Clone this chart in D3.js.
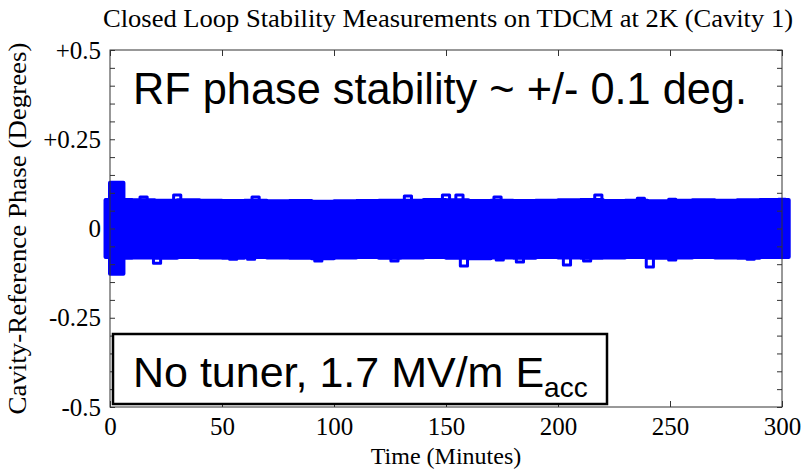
<!DOCTYPE html>
<html>
<head>
<meta charset="utf-8">
<script src="https://d3js.org/d3.v7.min.js"></script>
<style>
  body { margin: 0; background: #fff; }
  .axis path, .axis line { stroke: #333; }
  .axis text { font-family: "Liberation Serif", "Times New Roman", serif; font-size: 25px; fill: #000; }
</style>
</head>
<body>
<div id="chart"></div>
<script>
// Data
const title = "Closed Loop Stability Measurements on TDCM at 2K (Cavity 1)";
const xTicks = [0, 50, 100, 150, 200, 250, 300];
const yTicks = [-0.5, -0.45, -0.4, -0.35, -0.3, -0.25, -0.2, -0.15, -0.1, -0.05, 0,
                0.05, 0.1, 0.15, 0.2, 0.25, 0.3, 0.35, 0.4, 0.45, 0.5];
const yLabels = { "-0.5": "-0.5", "-0.25": "-0.25", "0": "0", "0.25": "+0.25", "0.5": "+0.5" };

// envelope of the phase signal (minutes, degrees)
const envTime  = [-2, 0, 6, 10, 20, 30, 40, 50, 60, 70, 80, 90, 100, 110, 120, 130, 140, 150,
                  160, 170, 180, 190, 200, 210, 220, 230, 240, 250, 260, 270, 280, 290, 300, 303];
const envUpper = [0.080, 0.128, 0.080, 0.079, 0.078, 0.079, 0.078, 0.077, 0.078, 0.076, 0.077, 0.075,
                  0.076, 0.077, 0.078, 0.078, 0.080, 0.079, 0.077, 0.078, 0.077, 0.078, 0.079, 0.080,
                  0.077, 0.078, 0.076, 0.078, 0.079, 0.078, 0.079, 0.080, 0.080, 0.080];
const envLower = [-0.080, -0.127, -0.082, -0.081, -0.082, -0.080, -0.081, -0.082, -0.080, -0.081,
                  -0.082, -0.083, -0.081, -0.080, -0.082, -0.081, -0.080, -0.082, -0.083, -0.081,
                  -0.082, -0.080, -0.081, -0.082, -0.081, -0.080, -0.082, -0.081, -0.080, -0.081,
                  -0.082, -0.080, -0.080, -0.080];

// isolated excursions poking out of the band
const bumpTime  = [15, 30, 65, 133, 150, 156, 173, 218, 237, 251, 300,
                   21, 55, 63, 93, 127, 158, 174, 183, 204, 213, 241, 251, 286];
const bumpValue = [0.088, 0.094, 0.088, 0.091, 0.094, 0.094, 0.088, 0.094, 0.085, 0.082, 0.082,
                   -0.097, -0.086, -0.086, -0.091, -0.091, -0.105, -0.088, -0.094, -0.102, -0.091,
                   -0.108, -0.088, -0.086];

const width = 802, height = 469;
const margin = { top: 50, right: 20, bottom: 62, left: 110 };

const svg = d3.select("#chart").append("svg")
  .attr("width", width).attr("height", height);

const x = d3.scaleLinear().domain([0, 300]).range([margin.left, width - margin.right]);
const y = d3.scaleLinear().domain([-0.5, 0.5]).range([height - margin.bottom, margin.top]);

// Title
svg.append("text")
  .attr("x", (margin.left + width - margin.right) / 2 + 2)
  .attr("y", 27)
  .attr("text-anchor", "middle")
  .attr("font-family", "Liberation Serif, Times New Roman, serif")
  .attr("font-size", 26)
  .attr("textLength", 690).attr("lengthAdjust", "spacingAndGlyphs")
  .text(title);

// Signal band
const env = envTime.map((t, i) => ({ t, hi: envUpper[i], lo: envLower[i] }));
const area = d3.area()
  .x(d => x(d.t)).y0(d => y(d.lo)).y1(d => y(d.hi))
  .curve(d3.curveStepAfter);

svg.append("path")
  .datum(env)
  .attr("d", area)
  .attr("fill", "#0000ff")
  .attr("stroke", "#0000ff")
  .attr("stroke-width", 4)
  .attr("stroke-linejoin", "round");

const bumps = bumpTime.map((t, i) => ({ t, v: bumpValue[i] }));
svg.append("g").selectAll("path")
  .data(bumps)
  .join("path")
  .attr("d", d => {
    const base = d.v > 0 ? 0.07 : -0.07;
    return d3.line()([[x(d.t - 1.6), y(base)], [x(d.t - 1.6), y(d.v)],
                      [x(d.t + 1.6), y(d.v)], [x(d.t + 1.6), y(base)]]);
  })
  .attr("fill", "none")
  .attr("stroke", "#0000ff")
  .attr("stroke-width", 3)
  .attr("stroke-linejoin", "round");

// Axes (inward ticks, MATLAB box)
const plotBottom = height - margin.bottom, plotRight = width - margin.right;

svg.append("g").attr("class", "axis")
  .attr("transform", `translate(0,${plotBottom})`)
  .call(d3.axisBottom(x).tickValues(xTicks).tickSizeInner(-6).tickSizeOuter(0).tickPadding(10))
  .call(g => g.select(".domain").remove());

svg.append("g").attr("class", "axis")
  .attr("transform", `translate(0,${margin.top})`)
  .call(d3.axisTop(x).tickValues(xTicks).tickSizeInner(-6).tickSizeOuter(0).tickFormat(""))
  .call(g => g.select(".domain").remove());

svg.append("g").attr("class", "axis")
  .attr("transform", `translate(${margin.left},0)`)
  .call(d3.axisLeft(y).tickValues(yTicks).tickSizeInner(-5).tickSizeOuter(0).tickPadding(9)
    .tickFormat(d => yLabels[String(d)] || ""))
  .call(g => g.select(".domain").remove());

svg.append("g").attr("class", "axis")
  .attr("transform", `translate(${plotRight},0)`)
  .call(d3.axisRight(y).tickValues(yTicks).tickSizeInner(-5).tickSizeOuter(0).tickFormat(""))
  .call(g => g.select(".domain").remove());

svg.append("rect")
  .attr("x", margin.left).attr("y", margin.top)
  .attr("width", plotRight - margin.left).attr("height", plotBottom - margin.top)
  .attr("fill", "none").attr("stroke", "#333").attr("stroke-width", 1);

// Axis titles
svg.append("text")
  .attr("x", (margin.left + plotRight) / 2)
  .attr("y", 464)
  .attr("text-anchor", "middle")
  .attr("font-family", "Liberation Serif, Times New Roman, serif")
  .attr("font-size", 24)
  .text("Time (Minutes)");

svg.append("text")
  .attr("transform", `translate(26,${(margin.top + plotBottom) / 2}) rotate(-90)`)
  .attr("text-anchor", "middle")
  .attr("font-family", "Liberation Serif, Times New Roman, serif")
  .attr("font-size", 26)
  .attr("textLength", 372).attr("lengthAdjust", "spacingAndGlyphs")
  .text("Cavity-Reference Phase (Degrees)");

// Annotations
svg.append("text")
  .attr("x", 133).attr("y", 104)
  .attr("font-family", "Liberation Sans, Arial, sans-serif")
  .attr("font-size", 44)
  .attr("textLength", 614).attr("lengthAdjust", "spacingAndGlyphs")
  .text("RF phase stability ~ +/- 0.1 deg.");

svg.append("rect")
  .attr("x", 113).attr("y", 334)
  .attr("width", 494).attr("height", 70)
  .attr("fill", "#fff").attr("stroke", "#000").attr("stroke-width", 2.5);

const note = svg.append("text")
  .attr("x", 133).attr("y", 387)
  .attr("font-family", "Liberation Sans, Arial, sans-serif")
  .attr("font-size", 43)
  .text("No tuner, 1.7 MV/m E");
note.append("tspan")
  .attr("dy", 10)
  .attr("font-size", 28)
  .text("acc");
</script>
</body>
</html>
